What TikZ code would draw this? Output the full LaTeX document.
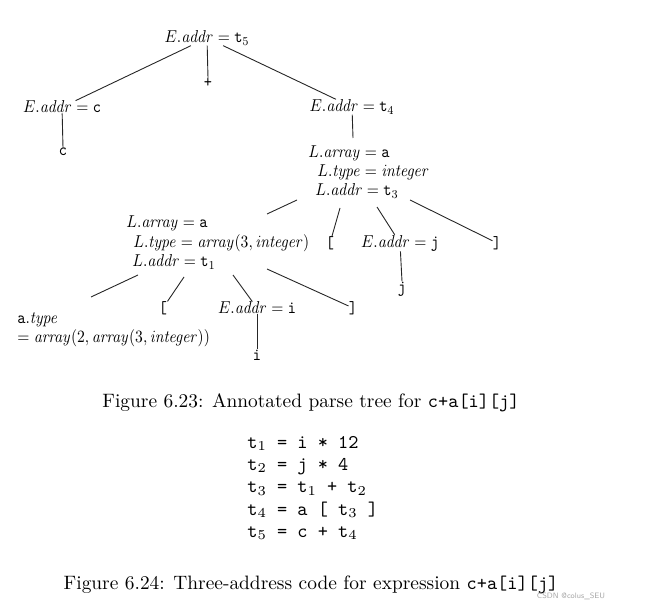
\RequirePackage{fix-cm}
\documentclass[tikz,border=0pt]{standalone}
\usepackage{amsmath}
\usepackage{graphicx}
\usepackage{tikz}
\usetikzlibrary{calc}

\newcommand{\treetext}[1]{\scalebox{0.78}[0.86]{#1}}
\newcommand{\capfont}{\fontsize{9.7}{11.1}\selectfont}

\begin{document}
\begin{tikzpicture}[
    x=0.5pt,
    y=-0.5pt,
    lbl/.style={inner sep=0pt},
    figcap/.style={inner sep=0pt, font=\capfont},
    tacode/.style={inner sep=0pt, align=left, font=\capfont\ttfamily},
    link/.style={line width=0.45pt, draw=black!85}
]
\useasboundingbox (0,0) rectangle (647,614);

\node[lbl] (root) at (207,38) {\treetext{$E.\mathit{addr} = \mathtt{t}_5$}};
\node[lbl] (plus) at (208,83) {\treetext{\texttt{+}}};
\node[lbl] (ec) at (62,107) {\treetext{$E.\mathit{addr} = \mathtt{c}$}};
\node[lbl] (c) at (63,152) {\treetext{\texttt{c}}};
\node[lbl] (et4) at (352,107) {\treetext{$E.\mathit{addr} = \mathtt{t}_4$}};
\node[lbl, anchor=west] (larr3) at (308,153) {\treetext{$L.\mathit{array} = \mathtt{a}$}};
\node[lbl, anchor=west] (ltype3) at (317,172) {\treetext{$L.\mathit{type} = \mathit{integer}$}};
\node[lbl, anchor=west] (laddr3) at (315,191) {\treetext{$L.\mathit{addr} = \mathtt{t}_3$}};
\node[lbl, anchor=west] (larr1) at (126,223) {\treetext{$L.\mathit{array} = \mathtt{a}$}};
\node[lbl, anchor=west] (ltype1) at (133,243) {\treetext{$L.\mathit{type} = \mathit{array}(3, \mathit{integer})$}};
\node[lbl, anchor=west] (laddr1) at (132,262) {\treetext{$L.\mathit{addr} = \mathtt{t}_1$}};
\node[lbl] (lbr3) at (330,243) {\treetext{\texttt{[}}};
\node[lbl] (ej) at (400,243) {\treetext{$E.\mathit{addr} = \mathtt{j}$}};
\node[lbl] (rbr3) at (497,243) {\treetext{\texttt{]}}};
\node[lbl] (j) at (402,289) {\treetext{\texttt{j}}};
\node[lbl, anchor=west] (atype) at (17,320) {\treetext{$\mathtt{a}.\mathit{type}$}};
\node[lbl, anchor=west] (atype2) at (17,338) {\treetext{$= \mathit{array}(2, \mathit{array}(3, \mathit{integer}))$}};
\node[lbl] (lbr1) at (163,308) {\treetext{\texttt{[}}};
\node[lbl] (ei) at (257,308) {\treetext{$E.\mathit{addr} = \mathtt{i}$}};
\node[lbl] (rbr1) at (353,308) {\treetext{\texttt{]}}};
\node[lbl] (i) at (257,355) {\treetext{\texttt{i}}};

\node[figcap] (cap23) at (311,403) {Figure 6.23: Annotated parse tree for \texttt{c+a[i][j]}};
\node[tacode, anchor=west] (tac) at (247,488) {t$_1$ = i * 12\\t$_2$ = j * 4\\t$_3$ = t$_1$ + t$_2$\\t$_4$ = a [ t$_3$ ]\\t$_5$ = c + t$_4$};
\node[figcap] (cap24) at (311,585) {Figure 6.24: Three-address code for expression \texttt{c+a[i][j]}};
\node[inner sep=0pt, font=\fontsize{3.9}{4.5}\selectfont\sffamily, text=gray!70] (mark) at (571,596) {CSDN @colus\_SEU};

\draw[link] ([shift={(-25,13)}]root) -- ([shift={(27,-12)}]ec);
\draw[link] ([shift={(1,13)}]root) -- ([shift={(0,-13)}]plus);
\draw[link] ([shift={(26,12)}]root) -- ([shift={(-25,-14)}]et4);
\draw[link] ([shift={(1,13)}]ec) -- ([shift={(0,-14)}]c);
\draw[link] ([shift={(1,13)}]et4) -- ([shift={(45,-15)}]larr3.west);
\draw[link] ([shift={(-18,9)}]laddr3.west) -- ([shift={(141,-9)}]larr1.west);
\draw[link] ([shift={(25,17)}]laddr3.west) -- ([shift={(3,-15)}]lbr3);
\draw[link] ([shift={(62,16)}]laddr3.west) -- ([shift={(-8,-16)}]ej);
\draw[link] ([shift={(95,9)}]laddr3.west) -- ([shift={(-10,-10)}]rbr3);
\draw[link] ([shift={(2,10)}]ej) -- ([shift={(0,-16)}]j);
\draw[link] ([shift={(6,13)}]laddr1.west) -- ([shift={(74,-23)}]atype.west);
\draw[link] ([shift={(52,15)}]laddr1.west) -- ([shift={(8,-12)}]lbr1);
\draw[link] ([shift={(101,13)}]laddr1.west) -- ([shift={(-9,-12)}]ei);
\draw[link] ([shift={(135,7)}]laddr1.west) -- ([shift={(-25,-11)}]rbr1);
\draw[link] ([shift={(0,15)}]ei) -- ([shift={(0,-12)}]i);
\end{tikzpicture}
\end{document}
